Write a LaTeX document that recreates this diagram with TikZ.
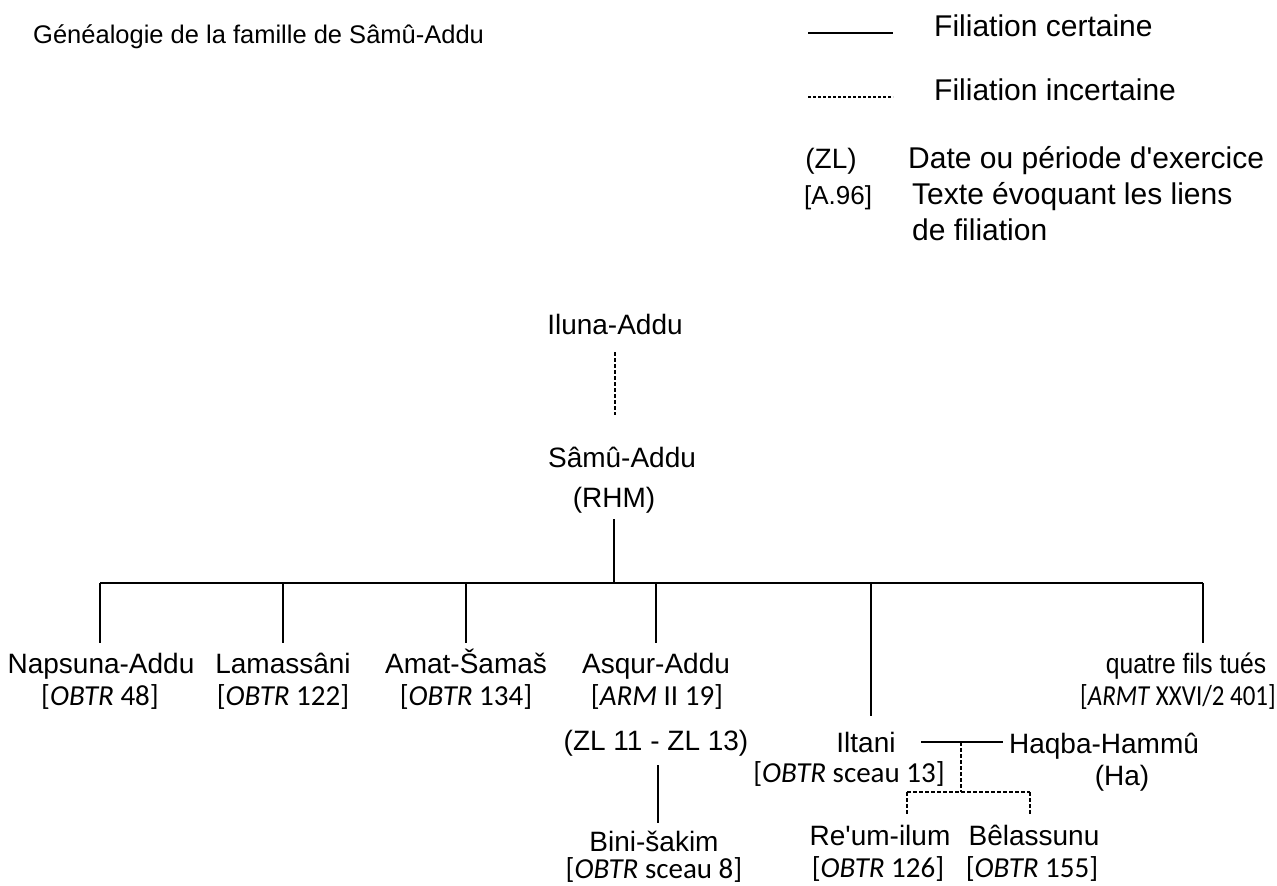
\documentclass[tikz,border=0pt]{standalone}
\usepackage{fontspec}
\setmainfont{Liberation Sans}[Ligatures=TeXOff]
\newfontfamily\reffont{Carlito}[Ligatures=TeXOff]
\begin{document}
\begin{tikzpicture}[x=1pt,y=-1pt,
  nm/.style={font=\fontsize{28}{32}\selectfont, inner xsep=0pt, inner ysep=9pt,
             text height=21pt, text depth=6pt, anchor=base},
  rf/.style={font=\reffont\fontsize{29}{33}\selectfont, inner sep=0pt, anchor=base},
  lg/.style={font=\fontsize{30}{34}\selectfont, inner sep=0pt, anchor=base west},
  lgk/.style={font=\fontsize{28}{32}\selectfont, inner sep=0pt, anchor=base},
  sure/.style={line width=1.8pt},
  unsure/.style={line width=1.6pt, dash pattern=on 3.5pt off 2.5pt},
  legunsure/.style={line width=1.3pt, dash pattern=on 2.5pt off 2.5pt}]
\useasboundingbox[fill=white] (0,0) rectangle (1277,886);

% title
\node[lg, font=\fontsize{25.5}{30}\selectfont] (title) at (33,43) {Généalogie de la famille de Sâmû-Addu};

% legend
\coordinate (lsA) at (808,33);
\coordinate (lsB) at (893,33);
\draw[sure] (lsA) -- (lsB);
\node[lg] (lcert) at (934,36) {Filiation certaine};
\coordinate (luA) at (808,97);
\coordinate (luB) at (893,97);
\draw[legunsure] (luA) -- (luB);
\node[lg] (lincert) at (934,100) {Filiation incertaine};
\node[lgk] (lzl) at (831,168) {(ZL)};
\node[lgk, font=\fontsize{26}{30}\selectfont] (la96) at (838,204) {[A.96]};
\node[lg] (ldate) at (908,168) {Date ou période d'exercice};
\node[lg] (ltexte) at (912,204) {Texte évoquant les liens};
\node[lg] (ltexte2) at (912,240) {de filiation};

% tree nodes
\node[nm] (iluna) at (615,334) {Iluna-Addu};
\node[nm] (samu) at (622,467) {Sâmû-Addu};
\node[nm] (rhm) at (614,507) {(RHM)};
\coordinate (bar) at (614,583);

\node[nm] (napsuna) at (101,673) {Napsuna-Addu};
\node[rf] (napsunaref) at (100,705) {[\textit{OBTR} 48]};
\node[nm] (lamassani) at (283,673) {Lamassâni};
\node[rf] (lamassaniref) at (283,705) {[\textit{OBTR} 122]};
\node[nm] (amat) at (466,673) {Amat-Šamaš};
\node[rf] (amatref) at (466,705) {[\textit{OBTR} 134]};
\node[nm] (asqur) at (656,673) {Asqur-Addu};
\node[rf] (asqurref) at (657,705) {[\textit{ARM} II 19]};
\node[nm] (zl) at (656,750) {(ZL 11 - ZL 13)};
\node[nm] (bini) at (654,851) {Bini-šakim};
\node[rf] (biniref) at (654,878) {[\textit{OBTR} sceau 8]};
\node[nm] (quatre) at (1186,673) {\scalebox{0.88}[1]{quatre fils tués}};
\node[rf] (quatreref) at (1178,705) {\scalebox{0.86}[1]{[\textit{ARMT} XXVI/2 401]}};

\node[nm] (iltani) at (866,752) {Iltani};
\node[rf] (iltaniref) at (849,782) {[\textit{OBTR} sceau 13]};
\node[nm] (haqba) at (1104,753) {Haqba-Hammû};
\node[nm] (ha) at (1122,785) {(Ha)};
\node[nm] (reum) at (880,845) {Re'um-ilum};
\node[rf] (reumref) at (878,877) {[\textit{OBTR} 126]};
\node[nm] (belassunu) at (1034,845) {Bêlassunu};
\node[rf] (belassunuref) at (1032,877) {[\textit{OBTR} 155]};

% connectors
\draw[unsure] ([yshift=-3pt]iluna.south) -- ([yshift=22pt]samu.north -| iluna.south);
\draw[sure] ([yshift=3pt]rhm.south) -- (bar);
\coordinate (barL) at (100,583);
\coordinate (barR) at (1203,583);
\draw[sure] (barL) -- (barR);
\draw[sure] (barL) -- (napsuna.north -| barL);
\draw[sure] (lamassani.north |- bar) -- (lamassani.north);
\draw[sure] (amat.north |- bar) -- (amat.north);
\draw[sure] (asqur.north |- bar) -- (asqur.north);
\draw[sure] (barR) -- (quatre.north -| barR);
\coordinate (iltdrop) at (871,583);
\draw[sure] (iltdrop) -- ([yshift=6pt]iltani.north -| iltdrop);
\draw[sure] ([xshift=2pt]zl.south) -- ([xshift=4pt,yshift=-2pt]bini.north);

% marriage and children
\coordinate (marL) at (921,742);
\coordinate (marR) at (1003,742);
\coordinate (marM) at (961,742);
\coordinate (kids) at (961,792);
\coordinate (kidL) at (907,792);
\coordinate (kidR) at (1030,792);
\draw[sure] (marL) -- (marR);
\draw[unsure] (marM) -- (kids);
\draw[unsure] (kidL) -- (kidR);
\draw[unsure] (kidL) -- ([yshift=-1pt]kidL |- reum.north);
\draw[unsure] (kidR) -- ([yshift=-1pt]kidR |- belassunu.north);
\end{tikzpicture}
\end{document}
